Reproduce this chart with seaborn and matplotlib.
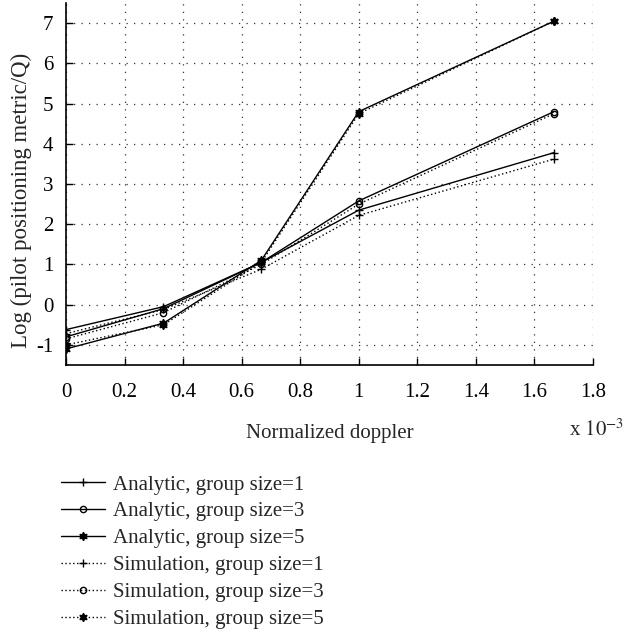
import matplotlib
matplotlib.use('Agg')
import matplotlib.pyplot as plt
import seaborn as sns

# ---- data (x in units of 1e-3) ----
doppler = [0.0, 0.333, 0.667, 1.0, 1.667]
analytic_g1 = [-0.62, -0.05, 1.05, 2.35, 3.78]
analytic_g3 = [-0.80, -0.10, 1.05, 2.58, 4.80]
analytic_g5 = [-1.10, -0.46, 1.10, 4.80, 7.05]
simulation_g1 = [-0.72, -0.12, 0.88, 2.22, 3.62]
simulation_g3 = [-0.85, -0.20, 1.00, 2.50, 4.75]
simulation_g5 = [-1.00, -0.50, 1.05, 4.75, 7.05]
labels = ["Analytic, group size=1", "Analytic, group size=3", "Analytic, group size=5",
          "Simulation, group size=1", "Simulation, group size=3", "Simulation, group size=5"]
xticks = [0, 0.2, 0.4, 0.6, 0.8, 1, 1.2, 1.4, 1.6, 1.8]
yticks = [-1, 0, 1, 2, 3, 4, 5, 6, 7]

sns.set_style('ticks')
plt.rcParams['font.family'] = ['Liberation Serif', 'DejaVu Serif']
plt.rcParams['mathtext.fontset'] = 'stix'

fig = plt.figure(figsize=(6.24, 6.34), dpi=100)
ax = fig.add_axes([66/624, 1-365/634, (593-66)/624, (365-3)/634])

dot = (0, (1, 1.8))
series = [analytic_g1, analytic_g3, analytic_g5, simulation_g1, simulation_g3, simulation_g5]
styles = [
    dict(linestyle='-', marker='+', markersize=6, markerfacecolor='black'),
    dict(linestyle='-', marker='o', markersize=4.5, markerfacecolor='none'),
    dict(linestyle='-', marker=(6, 1, 0), markersize=6, markerfacecolor='black'),
    dict(linestyle=dot, marker='+', markersize=6, markerfacecolor='black'),
    dict(linestyle=dot, marker='o', markersize=4.5, markerfacecolor='none'),
    dict(linestyle=dot, marker=(6, 1, 0), markersize=6, markerfacecolor='black'),
]
for vals, lab, st in zip(series, labels, styles):
    sns.lineplot(x=doppler, y=vals, ax=ax, color='black', linewidth=1.0,
                 markeredgecolor='black', markeredgewidth=1.0, label=lab, **st)

ax.set_xlim(0, 1.8)
ax.set_ylim(-1.5, 7.5)
ax.set_xticks(xticks)
ax.set_xticklabels([f"{t:g}" for t in xticks])
ax.set_yticks(yticks)
ax.set_yticklabels([f"{t:g}" for t in yticks])
ax.tick_params(direction='in', length=5, width=1, labelsize=15, colors='black')
ax.tick_params(axis='x', pad=13)
ax.tick_params(axis='y', pad=9)
ax.grid(True, linestyle=(0, (1, 5)), color='#333333', linewidth=0.9)
sns.despine(ax=ax)
for s in ['left', 'bottom']:
    ax.spines[s].set_linewidth(1.2)
    ax.spines[s].set_color('black')

ax.set_xlabel('Normalized doppler', fontsize=15, labelpad=16)
ax.set_ylabel('Log (pilot positioning metric/Q)', fontsize=16.5)
ax.yaxis.set_label_coords((21-66)/527, (365-200)/362)
ax.yaxis.label.set_verticalalignment('center')
fig.text(569/624, 1-430/634, r'x $10^{-3}$', fontsize=15, va='center', ha='left')

leg = ax.get_legend()
if leg is not None:
    leg.remove()
handles, labs = ax.get_legend_handles_labels()
fig.legend(handles, labs, loc='upper left', bbox_to_anchor=(61/624, 1-475/634),
           frameon=False, fontsize=15, handlelength=2.1, handletextpad=0.4,
           labelspacing=0.35, borderaxespad=0, borderpad=0)

fig.savefig('out.png', dpi=100)
